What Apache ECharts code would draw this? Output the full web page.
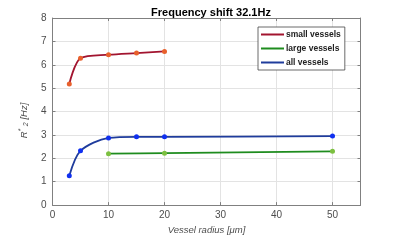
<!DOCTYPE html>
<html><head><meta charset="utf-8">
<script src="https://cdn.jsdelivr.net/npm/echarts@6/dist/echarts.min.js"></script>
<style>html,body{margin:0;padding:0;background:#fff}#c{width:400px;height:240px}</style>
</head><body><div id="c"></div>
<script>
const titleText = "Frequency shift 32.1Hz";
const seriesNames = ["small vessels", "large vessels", "all vessels"];
const smallX = [3, 5, 10, 15, 20];
const smallY = [5.18, 6.28, 6.43, 6.50, 6.57];
const largeX = [10, 20, 50];
const largeY = [2.20, 2.22, 2.30];
const allX = [3, 5, 10, 15, 20, 50];
const allY = [1.25, 2.32, 2.87, 2.92, 2.92, 2.95];
const xTicks = [0, 10, 20, 30, 40, 50];
const yTicks = [0, 1, 2, 3, 4, 5, 6, 7, 8];

const pair = (xs, ys) => xs.map((x, i) => [x, ys[i]]);
const font = "Liberation Sans, Arial, sans-serif";
const axisCol = "#808080";
const labCol = "#4d4d4d";
const lineCols = ["#a2142f", "#1e8c1e", "#1f3c9c"];
const dotCols = ["#e8602c", "#7cc040", "#1030f0"];

function mk(i, xs, ys) {
  return {
    name: seriesNames[i], type: "line", data: pair(xs, ys), smooth: 0.3,
    symbol: "circle", symbolSize: 5,
    lineStyle: { color: lineCols[i], width: 1.8 },
    itemStyle: { color: dotCols[i] },
    emphasis: { disabled: true }, animation: false
  };
}

const chart = echarts.init(document.getElementById("c"), null, { renderer: "canvas" });
const baseX = { type: "value", min: 0, max: 55, interval: 10 };
const baseY = { type: "value", min: yTicks[0], max: yTicks[yTicks.length - 1], interval: 1 };
chart.setOption({
  animation: false,
  title: { text: titleText, left: 206, top: 2, textAlign: "center",
    textStyle: { fontFamily: font, fontSize: 11, fontWeight: "bold", color: "#000" } },
  legend: {
    data: seriesNames.map((n, i) => ({ name: n, icon: "rect", itemStyle: { color: lineCols[i] } })),
    orient: "vertical", left: 258, top: 27, itemWidth: 23, itemHeight: 2, itemGap: 5,
    padding: [3, 4, 3, 3], borderColor: "#444", borderWidth: 0.8, backgroundColor: "#fff",
    textStyle: { fontFamily: font, fontSize: 8.5, fontWeight: "bold", color: "#222", padding: [0, 0, 0, -3] }
  },
  grid: { left: 52.5, right: 39.5, top: 18, bottom: 28 },
  xAxis: [
    Object.assign({}, baseX, {
      name: "Vessel radius [μm]", nameLocation: "middle", nameGap: 15,
      nameTextStyle: { fontFamily: font, fontSize: 9.5, fontStyle: "italic", color: labCol },
      axisLine: { show: true, lineStyle: { color: axisCol, width: 1 } },
      axisTick: { show: true, inside: true, length: 3, lineStyle: { color: axisCol } },
      axisLabel: { show: true, margin: 5, showMaxLabel: false, fontFamily: font, fontSize: 10, color: labCol,
        formatter: v => xTicks.includes(v) ? String(v) : "" },
      splitLine: { show: true, lineStyle: { color: "#e3e3e3", width: 1 } }
    }),
    Object.assign({}, baseX, {
      position: "top",
      axisLine: { show: true, onZero: false, lineStyle: { color: axisCol, width: 1 } },
      axisTick: { show: true, inside: true, length: 3, lineStyle: { color: axisCol } },
      axisLabel: { show: false }, splitLine: { show: false }
    })
  ],
  yAxis: [
    Object.assign({}, baseY, {
      name: "{i|R}{sup|*}{i| }{sub|2}{i| [Hz]}", nameLocation: "middle", nameGap: 16,
      nameTextStyle: { padding: [0, 18, 0, 0], rich: {
        i: { fontFamily: font, fontSize: 9.5, fontStyle: "italic", color: labCol },
        sup: { fontFamily: font, fontSize: 7, fontStyle: "italic", color: labCol, verticalAlign: "top", padding: [0, 0, 5, 0] },
        sub: { fontFamily: font, fontSize: 7, fontStyle: "italic", color: labCol, padding: [5, 0, 0, 0] }
      } },
      axisLine: { show: true, lineStyle: { color: axisCol, width: 1 } },
      axisTick: { show: true, inside: true, length: 3, lineStyle: { color: axisCol } },
      axisLabel: { margin: 6, fontFamily: font, fontSize: 10, color: labCol },
      splitLine: { show: true, lineStyle: { color: "#e3e3e3", width: 1 } }
    }),
    Object.assign({}, baseY, {
      position: "right",
      axisLine: { show: true, onZero: false, lineStyle: { color: axisCol, width: 1 } },
      axisTick: { show: true, inside: true, length: 3, lineStyle: { color: axisCol } },
      axisLabel: { show: false }, splitLine: { show: false }
    })
  ],
  series: [
    mk(0, smallX, smallY),
    mk(1, largeX, largeY),
    mk(2, allX, allY)
  ]
});
</script></body></html>
